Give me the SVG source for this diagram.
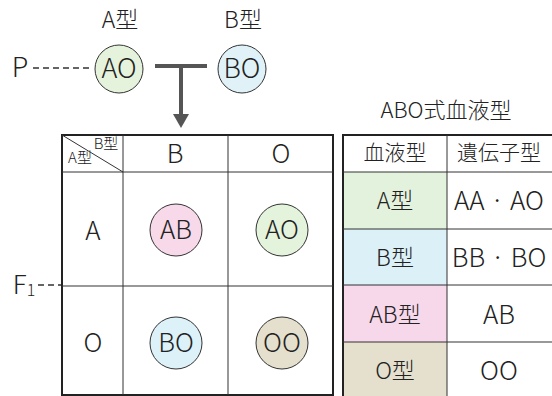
<svg xmlns="http://www.w3.org/2000/svg" width="552" height="396" viewBox="0 0 552 396">
<style>
text{font-family:"Noto Sans CJK JP","Noto Sans",sans-serif;font-weight:300;fill:#222;text-anchor:middle}
.t{font-size:26px}
.p{font-size:27px}
.s{font-size:21px}
.j{font-size:23px}
.c{stroke:#333;stroke-width:1}
.g{stroke:#333;stroke-width:1;fill:none}
.o{stroke:#222;stroke-width:2;fill:none}
</style>
<rect width="552" height="396" fill="#fff"/>

<g id="labels">
<text class="j" x="120" y="28">A型</text>
<text class="j" x="243" y="28">B型</text>
<text class="p" x="20" y="77">P</text>
<text class="t" x="24" y="294">F<tspan font-size="16" dy="2">1</tspan></text>
<text x="446" y="118" font-size="22">ABO式血液型</text>
</g>

<g id="connectors">
<line x1="33" y1="68" x2="92" y2="68" stroke="#333" stroke-width="1.4" stroke-dasharray="6,4"/>
<line x1="38" y1="285" x2="61" y2="285" stroke="#333" stroke-width="1.4" stroke-dasharray="6,4"/>
<line x1="155" y1="66" x2="207" y2="66" stroke="#555" stroke-width="4"/>
<line x1="181" y1="66" x2="181" y2="115" stroke="#555" stroke-width="4"/>
<path d="M173,114L189,114L181,128z" fill="#555"/>
</g>

<g id="parent-AO">
<circle cx="119" cy="69" r="24" fill="#e6f3dc" class="c"/>
<text class="p" x="119" y="78">AO</text>
</g>
<g id="parent-BO">
<circle cx="242" cy="69" r="24" fill="#e0f2f8" class="c"/>
<text class="p" x="242" y="78">BO</text>
</g>

<g id="punnett">
<rect x="62" y="135" width="271" height="260" class="o"/>
<line x1="62" y1="172" x2="333" y2="172" class="g"/>
<line x1="62" y1="286" x2="333" y2="286" class="g"/>
<line x1="123" y1="135" x2="123" y2="395" class="g"/>
<line x1="228" y1="135" x2="228" y2="395" class="g"/>
<line x1="62" y1="135" x2="123" y2="172" class="g"/>
<text x="106" y="149" font-size="15">B型</text>
<text x="80" y="163" font-size="15">A型</text>
<text class="t" x="175" y="163">B</text>
<text class="t" x="281" y="163">O</text>
<text class="t" x="93" y="240">A</text>
<text class="t" x="93" y="352">O</text>
</g>

<g id="child-AB">
<circle cx="176" cy="230" r="26" fill="#f7d9ea" class="c"/>
<text class="t" x="176" y="239">AB</text>
</g>
<g id="child-AO">
<circle cx="282" cy="230" r="26" fill="#e3f3dc" class="c"/>
<text class="t" x="282" y="239">AO</text>
</g>
<g id="child-BO">
<circle cx="176" cy="343" r="26" fill="#dcf1f8" class="c"/>
<text class="t" x="176" y="352">BO</text>
</g>
<g id="child-OO">
<circle cx="282" cy="343" r="26" fill="#e4e0cd" class="c"/>
<text class="t" x="282" y="352">OO</text>
</g>

<g id="abo-table">
<rect x="343" y="172" width="104" height="57" fill="#e3f2dc"/>
<rect x="343" y="229" width="104" height="56" fill="#dcf0f8"/>
<rect x="343" y="285" width="104" height="57" fill="#f7d7ea"/>
<rect x="343" y="342" width="104" height="54" fill="#e4e0cd"/>
<rect x="343" y="135" width="212" height="265" class="o"/>
<line x1="343" y1="172" x2="552" y2="172" class="g"/>
<line x1="343" y1="229" x2="552" y2="229" class="g"/>
<line x1="343" y1="285" x2="552" y2="285" class="g"/>
<line x1="343" y1="342" x2="552" y2="342" class="g"/>
<line x1="447" y1="135" x2="447" y2="396" class="g"/>
<text class="s" x="395" y="160">血液型</text>
<text class="s" x="499" y="160">遺伝子型</text>
<text class="j" x="395" y="209">A型</text>
<text class="t" x="499" y="210">AA · AO</text>
<text class="j" x="395" y="266">B型</text>
<text class="t" x="499" y="267">BB · BO</text>
<text class="j" x="395" y="323">AB型</text>
<text class="t" x="499" y="324">AB</text>
<text class="j" x="395" y="379">O型</text>
<text class="t" x="499" y="380">OO</text>
</g>
</svg>
